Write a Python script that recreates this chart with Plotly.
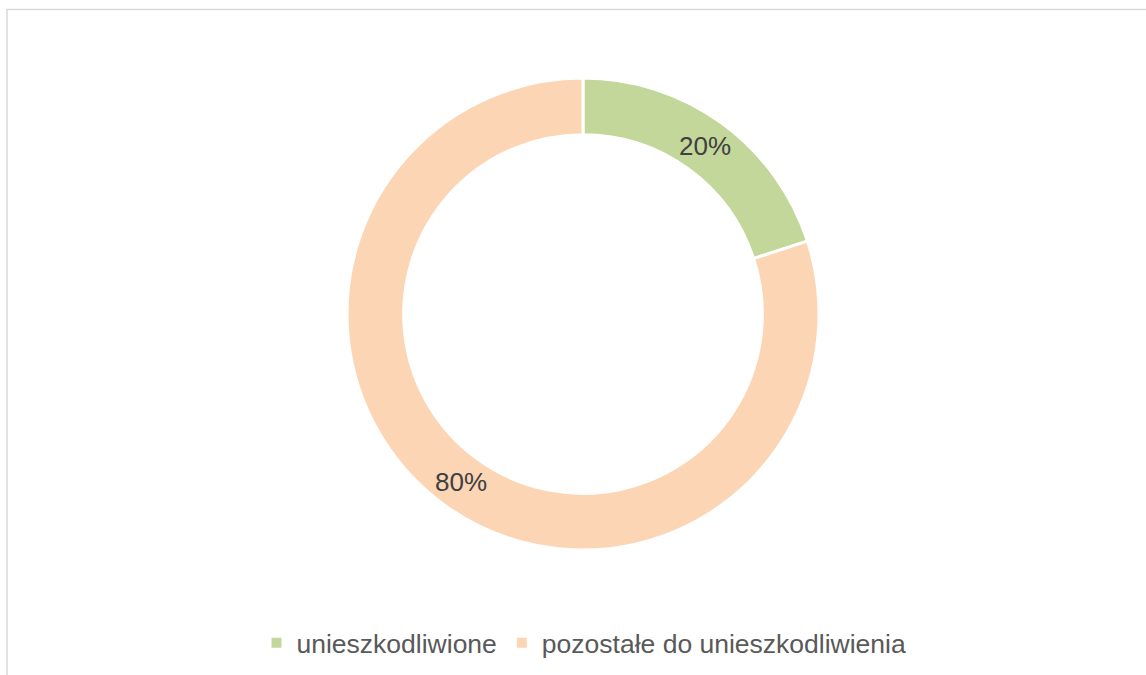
import math
import plotly.graph_objects as go

# Share of items neutralised vs. remaining
categories = ["unieszkodliwione", "pozostałe do unieszkodliwienia"]
values = [20, 80]
colors = ["#C4D79B", "#FCD5B5"]

W, H = 1146, 675
FONT = "Liberation Sans, Arial, sans-serif"

# Donut geometry (pixels)
cx, cy = 583, 314
r_out = 236
hole = 0.76
r_mid = r_out * (1 + hole) / 2

fig = go.Figure()
fig.add_trace(go.Pie(
    labels=categories,
    values=values,
    hole=hole,
    sort=False,
    direction="clockwise",
    rotation=0,
    marker=dict(colors=colors, line=dict(color="white", width=3)),
    textinfo="none",
    domain=dict(x=[(cx - r_out) / W, (cx + r_out) / W],
                y=[1 - (cy + r_out) / H, 1 - (cy - r_out) / H]),
    hoverinfo="label+percent",
))

# Percentage labels in the middle of each ring segment
total = sum(values)
start = 0.0
for v in values:
    mid = (start + v / 2) / total * 2 * math.pi
    start += v
    px = cx + r_mid * math.sin(mid)
    py = cy - r_mid * math.cos(mid)
    fig.add_annotation(
        x=px / W, y=1 - py / H, xref="paper", yref="paper",
        text=f"{round(100 * v / total)}%", showarrow=False,
        xanchor="center", yanchor="middle",
        font=dict(family=FONT, size=26, color="#404040"),
    )

# Light grey frame around the chart area
fig.add_shape(type="rect", xref="paper", yref="paper",
              x0=7 / W, x1=1.02, y0=-0.02, y1=1 - 9.5 / H,
              line=dict(color="#D9D9D9", width=1.5), fillcolor="rgba(0,0,0,0)")

fig.update_layout(
    width=W, height=H,
    margin=dict(l=0, r=0, t=0, b=0),
    paper_bgcolor="white",
    plot_bgcolor="white",
    showlegend=True,
    legend=dict(
        orientation="h",
        x=584 / W, xanchor="center",
        y=1 - 643 / H, yanchor="middle",
        font=dict(family=FONT, size=26.5, color="#595959"),
        itemsizing="constant",
        traceorder="normal",
    ),
)

fig.write_html("out.html")
